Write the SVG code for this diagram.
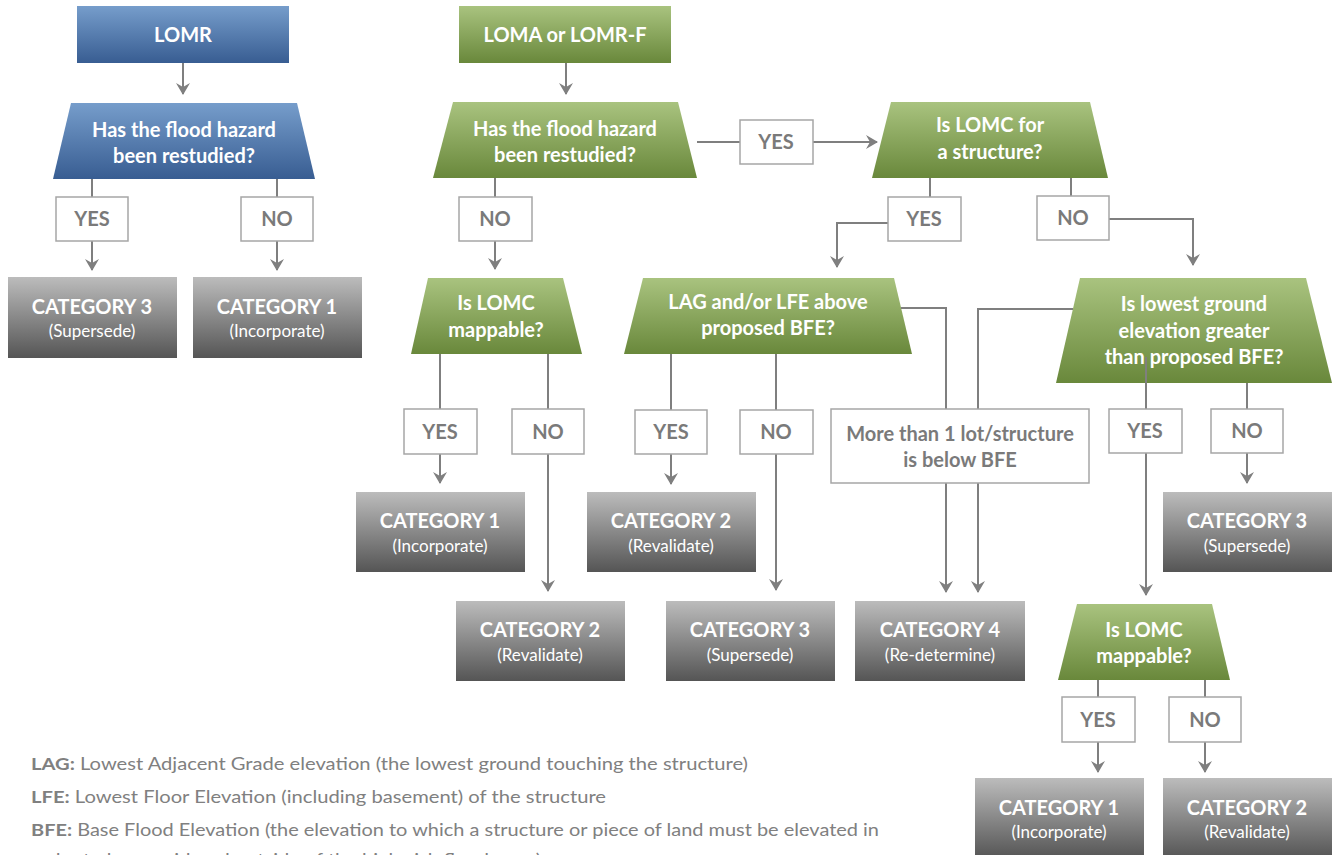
<svg xmlns="http://www.w3.org/2000/svg" width="1333" height="855" viewBox="0 0 1333 855">
<defs>
<linearGradient id="gBlue" x1="0" y1="0" x2="0" y2="1"><stop offset="0" stop-color="#769dcb"/><stop offset="1" stop-color="#385d92"/></linearGradient>
<linearGradient id="gGreen" x1="0" y1="0" x2="0" y2="1"><stop offset="0" stop-color="#a9c37f"/><stop offset="1" stop-color="#69883b"/></linearGradient>
<linearGradient id="gGray" x1="0" y1="0" x2="0" y2="1"><stop offset="0" stop-color="#bcbcbc"/><stop offset="1" stop-color="#555555"/></linearGradient>
<marker id="arr" viewBox="0 0 12 14" refX="11" refY="7" markerWidth="12" markerHeight="14" markerUnits="userSpaceOnUse" orient="auto">
<path d="M0,0 L12,7 L0,14 L4,7 z" fill="#7f7f7f"/>
</marker>
<style>
.t{font-family:Lato,"Open Sans","Liberation Sans",sans-serif;font-weight:bold;font-size:20px;fill:#ffffff;text-anchor:middle}
.c{font-family:Lato,"Open Sans","Liberation Sans",sans-serif;font-weight:bold;font-size:20px;fill:#ffffff;text-anchor:middle}
.s{font-family:Lato,"Open Sans","Liberation Sans",sans-serif;font-size:17px;fill:#ffffff;text-anchor:middle}
.l{font-family:Lato,"Open Sans","Liberation Sans",sans-serif;font-weight:bold;font-size:20px;fill:#7a7a7a;text-anchor:middle}
.lb{fill:#ffffff;stroke:#a6a6a6;stroke-width:1.5}
.cat{fill:url(#gGray)}
.gr{fill:url(#gGreen)}
.bl{fill:url(#gBlue)}
.cn{fill:none;stroke:#7f7f7f;stroke-width:2}
.a{marker-end:url(#arr)}
.lg{font-family:Lato,"Open Sans","Liberation Sans",sans-serif;font-size:17px;fill:#808080}
.lgb{font-weight:bold}
</style>
</defs>
<rect width="1333" height="855" fill="#ffffff"/>

<!-- Nodes -->
<g id="n-lomr"><rect class="bl" x="77" y="6" width="212" height="57"/><text class="t" x="183" y="42">LOMR</text></g>
<g id="n-lomr-q"><polygon class="bl" points="71,103 297,103 315,179 53,179"/><text class="t" x="184" y="137">Has the flood hazard</text><text class="t" x="184" y="163">been restudied?</text></g>
<g id="n-lomr-c3"><rect class="cat" x="8" y="277" width="169" height="81"/><text class="c" x="92" y="314">CATEGORY 3</text><text class="s" x="92" y="337">(Supersede)</text></g>
<g id="n-lomr-c1"><rect class="cat" x="193" y="277" width="169" height="81"/><text class="c" x="277" y="314">CATEGORY 1</text><text class="s" x="277" y="337">(Incorporate)</text></g>

<g id="n-loma"><rect class="gr" x="459" y="6" width="212" height="57"/><text class="t" x="565" y="42">LOMA or LOMR-F</text></g>
<g id="n-loma-q"><polygon class="gr" points="453,102 678,102 697,178 433,178"/><text class="t" x="565" y="136">Has the flood hazard</text><text class="t" x="565" y="162">been restudied?</text></g>
<g id="n-struct"><polygon class="gr" points="891,102 1090,102 1108,178 872,178"/><text class="t" x="990" y="132">Is LOMC for</text><text class="t" x="990" y="159">a structure?</text></g>
<g id="n-map1"><polygon class="gr" points="428,278 563,278 582,354 411,354"/><text class="t" x="496" y="310">Is LOMC</text><text class="t" x="496" y="337">mappable?</text></g>
<g id="n-lag"><polygon class="gr" points="643,278 894,278 912,354 624,354"/><text class="t" x="768" y="309">LAG and/or LFE above</text><text class="t" x="768" y="335">proposed BFE?</text></g>
<g id="n-lowest"><polygon class="gr" points="1080,278 1306,278 1332,383 1056,383"/><text class="t" x="1194" y="311">Is lowest ground</text><text class="t" x="1194" y="338">elevation greater</text><text class="t" x="1194" y="364">than proposed BFE?</text></g>
<g id="n-map2"><polygon class="gr" points="1077,604 1212,604 1230,680 1058,680"/><text class="t" x="1144" y="637">Is LOMC</text><text class="t" x="1144" y="663">mappable?</text></g>

<g id="n-c1a"><rect class="cat" x="356" y="492" width="169" height="80"/><text class="c" x="440" y="528">CATEGORY 1</text><text class="s" x="440" y="552">(Incorporate)</text></g>
<g id="n-c2a"><rect class="cat" x="456" y="601" width="169" height="80"/><text class="c" x="540" y="637">CATEGORY 2</text><text class="s" x="540" y="661">(Revalidate)</text></g>
<g id="n-c2b"><rect class="cat" x="587" y="492" width="169" height="80"/><text class="c" x="671" y="528">CATEGORY 2</text><text class="s" x="671" y="552">(Revalidate)</text></g>
<g id="n-c3b"><rect class="cat" x="666" y="601" width="169" height="80"/><text class="c" x="750" y="637">CATEGORY 3</text><text class="s" x="750" y="661">(Supersede)</text></g>
<g id="n-c4"><rect class="cat" x="855" y="601" width="170" height="80"/><text class="c" x="940" y="637">CATEGORY 4</text><text class="s" x="940" y="661">(Re-determine)</text></g>
<g id="n-c3c"><rect class="cat" x="1163" y="492" width="169" height="80"/><text class="c" x="1247" y="528">CATEGORY 3</text><text class="s" x="1247" y="552">(Supersede)</text></g>
<g id="n-c1b"><rect class="cat" x="975" y="778" width="169" height="80"/><text class="c" x="1059" y="815">CATEGORY 1</text><text class="s" x="1059" y="838">(Incorporate)</text></g>
<g id="n-c2c"><rect class="cat" x="1163" y="778" width="169" height="80"/><text class="c" x="1247" y="815">CATEGORY 2</text><text class="s" x="1247" y="838">(Revalidate)</text></g>

<!-- Connectors -->
<g id="connectors">
<path class="cn a" d="M183,63 V94"/>
<path class="cn" d="M92,179 V197"/><path class="cn a" d="M92,241 V270"/>
<path class="cn" d="M277,179 V197"/><path class="cn a" d="M277,241 V270"/>
<path class="cn a" d="M566,63 V94"/>
<path class="cn" d="M697,142 H740"/><path class="cn a" d="M813,142 H877"/>
<path class="cn" d="M495,178 V197"/><path class="cn a" d="M495,241 V269"/>
<path class="cn" d="M930,178 V197"/><path class="cn a" d="M888,223 H837 V267"/>
<path class="cn" d="M1071,178 V196"/><path class="cn a" d="M1109,219 H1193 V265"/>
<path class="cn" d="M440,354 V409"/><path class="cn a" d="M440,454 V483"/>
<path class="cn" d="M548,354 V409"/><path class="cn a" d="M548,454 V591"/>
<path class="cn" d="M671,354 V410"/><path class="cn a" d="M671,454 V484"/>
<path class="cn" d="M776,354 V410"/><path class="cn a" d="M776,454 V590"/>
<path class="cn" d="M901,308 H946 V409"/><path class="cn a" d="M946,483 V592"/>
<path class="cn" d="M1073,309 H978 V409"/><path class="cn a" d="M978,483 V592"/>
<path class="cn" d="M1146,357 V409"/><path class="cn a" d="M1146,453 V595"/>
<path class="cn" d="M1247,383 V409"/><path class="cn a" d="M1247,453 V483"/>
<path class="cn" d="M1098,680 V697"/><path class="cn a" d="M1098,742 V772"/>
<path class="cn" d="M1205,680 V697"/><path class="cn a" d="M1205,742 V772"/>
</g>

<!-- Labels -->
<g id="l-lomr-yes"><rect class="lb" x="56" y="197" width="72" height="44"/><text class="l" x="92" y="226">YES</text></g>
<g id="l-lomr-no"><rect class="lb" x="241" y="197" width="72" height="44"/><text class="l" x="277" y="226">NO</text></g>
<g id="l-loma-yes"><rect class="lb" x="740" y="120" width="73" height="44"/><text class="l" x="776" y="149">YES</text></g>
<g id="l-loma-no"><rect class="lb" x="459" y="197" width="73" height="44"/><text class="l" x="495" y="226">NO</text></g>
<g id="l-struct-yes"><rect class="lb" x="888" y="197" width="73" height="44"/><text class="l" x="924" y="226">YES</text></g>
<g id="l-struct-no"><rect class="lb" x="1037" y="196" width="72" height="44"/><text class="l" x="1073" y="225">NO</text></g>
<g id="l-map1-yes"><rect class="lb" x="404" y="409" width="73" height="45"/><text class="l" x="440" y="439">YES</text></g>
<g id="l-map1-no"><rect class="lb" x="512" y="409" width="72" height="45"/><text class="l" x="548" y="439">NO</text></g>
<g id="l-lag-yes"><rect class="lb" x="635" y="410" width="72" height="44"/><text class="l" x="671" y="439">YES</text></g>
<g id="l-lag-no"><rect class="lb" x="740" y="410" width="73" height="44"/><text class="l" x="776" y="439">NO</text></g>
<g id="l-more"><rect class="lb" x="831" y="409" width="258" height="74"/><text class="l" x="960" y="441">More than 1 lot/structure</text><text class="l" x="960" y="467">is below BFE</text></g>
<g id="l-low-yes"><rect class="lb" x="1109" y="409" width="73" height="44"/><text class="l" x="1145" y="438">YES</text></g>
<g id="l-low-no"><rect class="lb" x="1211" y="409" width="72" height="44"/><text class="l" x="1247" y="438">NO</text></g>
<g id="l-map2-yes"><rect class="lb" x="1062" y="697" width="73" height="45"/><text class="l" x="1098" y="727">YES</text></g>
<g id="l-map2-no"><rect class="lb" x="1169" y="697" width="72" height="45"/><text class="l" x="1205" y="727">NO</text></g>

<!-- Legend -->
<g id="legend">
<text class="lg" x="31" y="770" textLength="717" lengthAdjust="spacingAndGlyphs"><tspan class="lgb">LAG:</tspan> Lowest Adjacent Grade elevation (the lowest ground touching the structure)</text>
<text class="lg" x="31" y="803" textLength="575" lengthAdjust="spacingAndGlyphs"><tspan class="lgb">LFE:</tspan> Lowest Floor Elevation (including basement) of the structure</text>
<text class="lg" x="31" y="836" textLength="848" lengthAdjust="spacingAndGlyphs"><tspan class="lgb">BFE:</tspan> Base Flood Elevation (the elevation to which a structure or piece of land must be elevated in</text>
<text class="lg" x="31" y="866" textLength="510" lengthAdjust="spacingAndGlyphs">order to be considered outside of the high-risk flood zone)</text>
</g>
</svg>
